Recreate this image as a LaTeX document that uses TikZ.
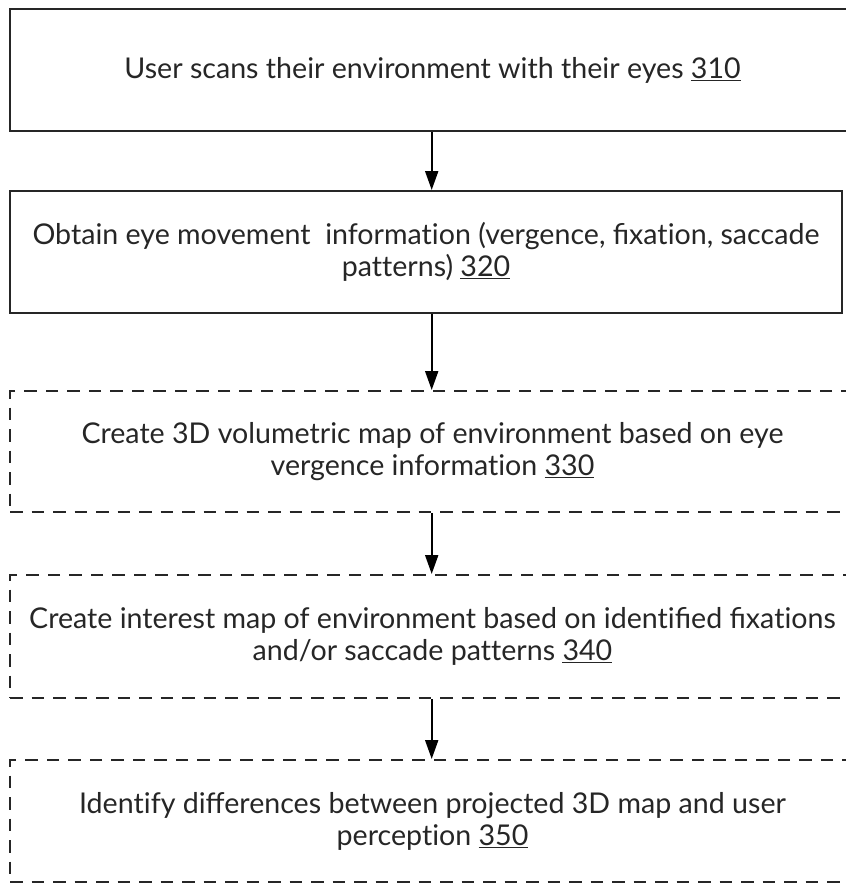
\documentclass[tikz,border=0pt]{standalone}
\usepackage{fontspec}
\setmainfont{Lato}
\usetikzlibrary{arrows.meta}
\newcommand\tiNL{t\kern0pt i}
\newcommand\ttNL{t\kern0pt t}
\begin{document}
\begin{tikzpicture}[x=1pt,y=-1pt,
  box/.style={draw=black!85, line width=2pt, align=center, inner sep=0pt,
    font=\fontsize{28.6}{32}\selectfont, text=black!85},
  solidbox/.style={box},
  dashbox/.style={box, dash pattern=on 12.5pt off 9pt},
  arr/.style={-{Triangle[length=19pt,width=13pt]}, line width=2pt, draw=black}]
\useasboundingbox (0,0) rectangle (846,884);
\clip (0,0) rectangle (846,884);
\node[solidbox, minimum width=845pt, minimum height=122pt] (b1) at (432.5,70)
  {User scans their environment with their eyes \underline{310}};
\node[solidbox, minimum width=832pt, minimum height=122pt] (b2) at (426,252)
  {Obtain eye movement\ \ informa\tiNL on (vergence, fixa\tiNL on, saccade\\ pa\ttNL erns) \underline{320}};
\node[dashbox, minimum width=845pt, minimum height=121pt] (b3) at (432.5,451.5)
  {Create 3D volumetric map of environment based on eye\\ vergence informa\tiNL on \underline{330}};
\node[dashbox, minimum width=845pt, minimum height=123pt] (b4) at (432.5,636.5)
  {Create interest map of environment based on iden\tiNL fied fixa\tiNL ons\\ and/or saccade pa\ttNL erns \underline{340}};
\node[dashbox, minimum width=845pt, minimum height=122pt] (b5) at (432.5,821)
  {Iden\tiNL fy differences between projected 3D map and user\\ percep\tiNL on \underline{350}};
\draw[arr] (b1.south -| 431.7,0) -- (b2.north -| 431.7,0);
\draw[arr] (b2.south -| 431.7,0) -- (b3.north -| 431.7,0);
\draw[arr] (b3.south -| 431.7,0) -- (b4.north -| 431.7,0);
\draw[arr] (b4.south -| 431.7,0) -- (b5.north -| 431.7,0);
\end{tikzpicture}
\end{document}
